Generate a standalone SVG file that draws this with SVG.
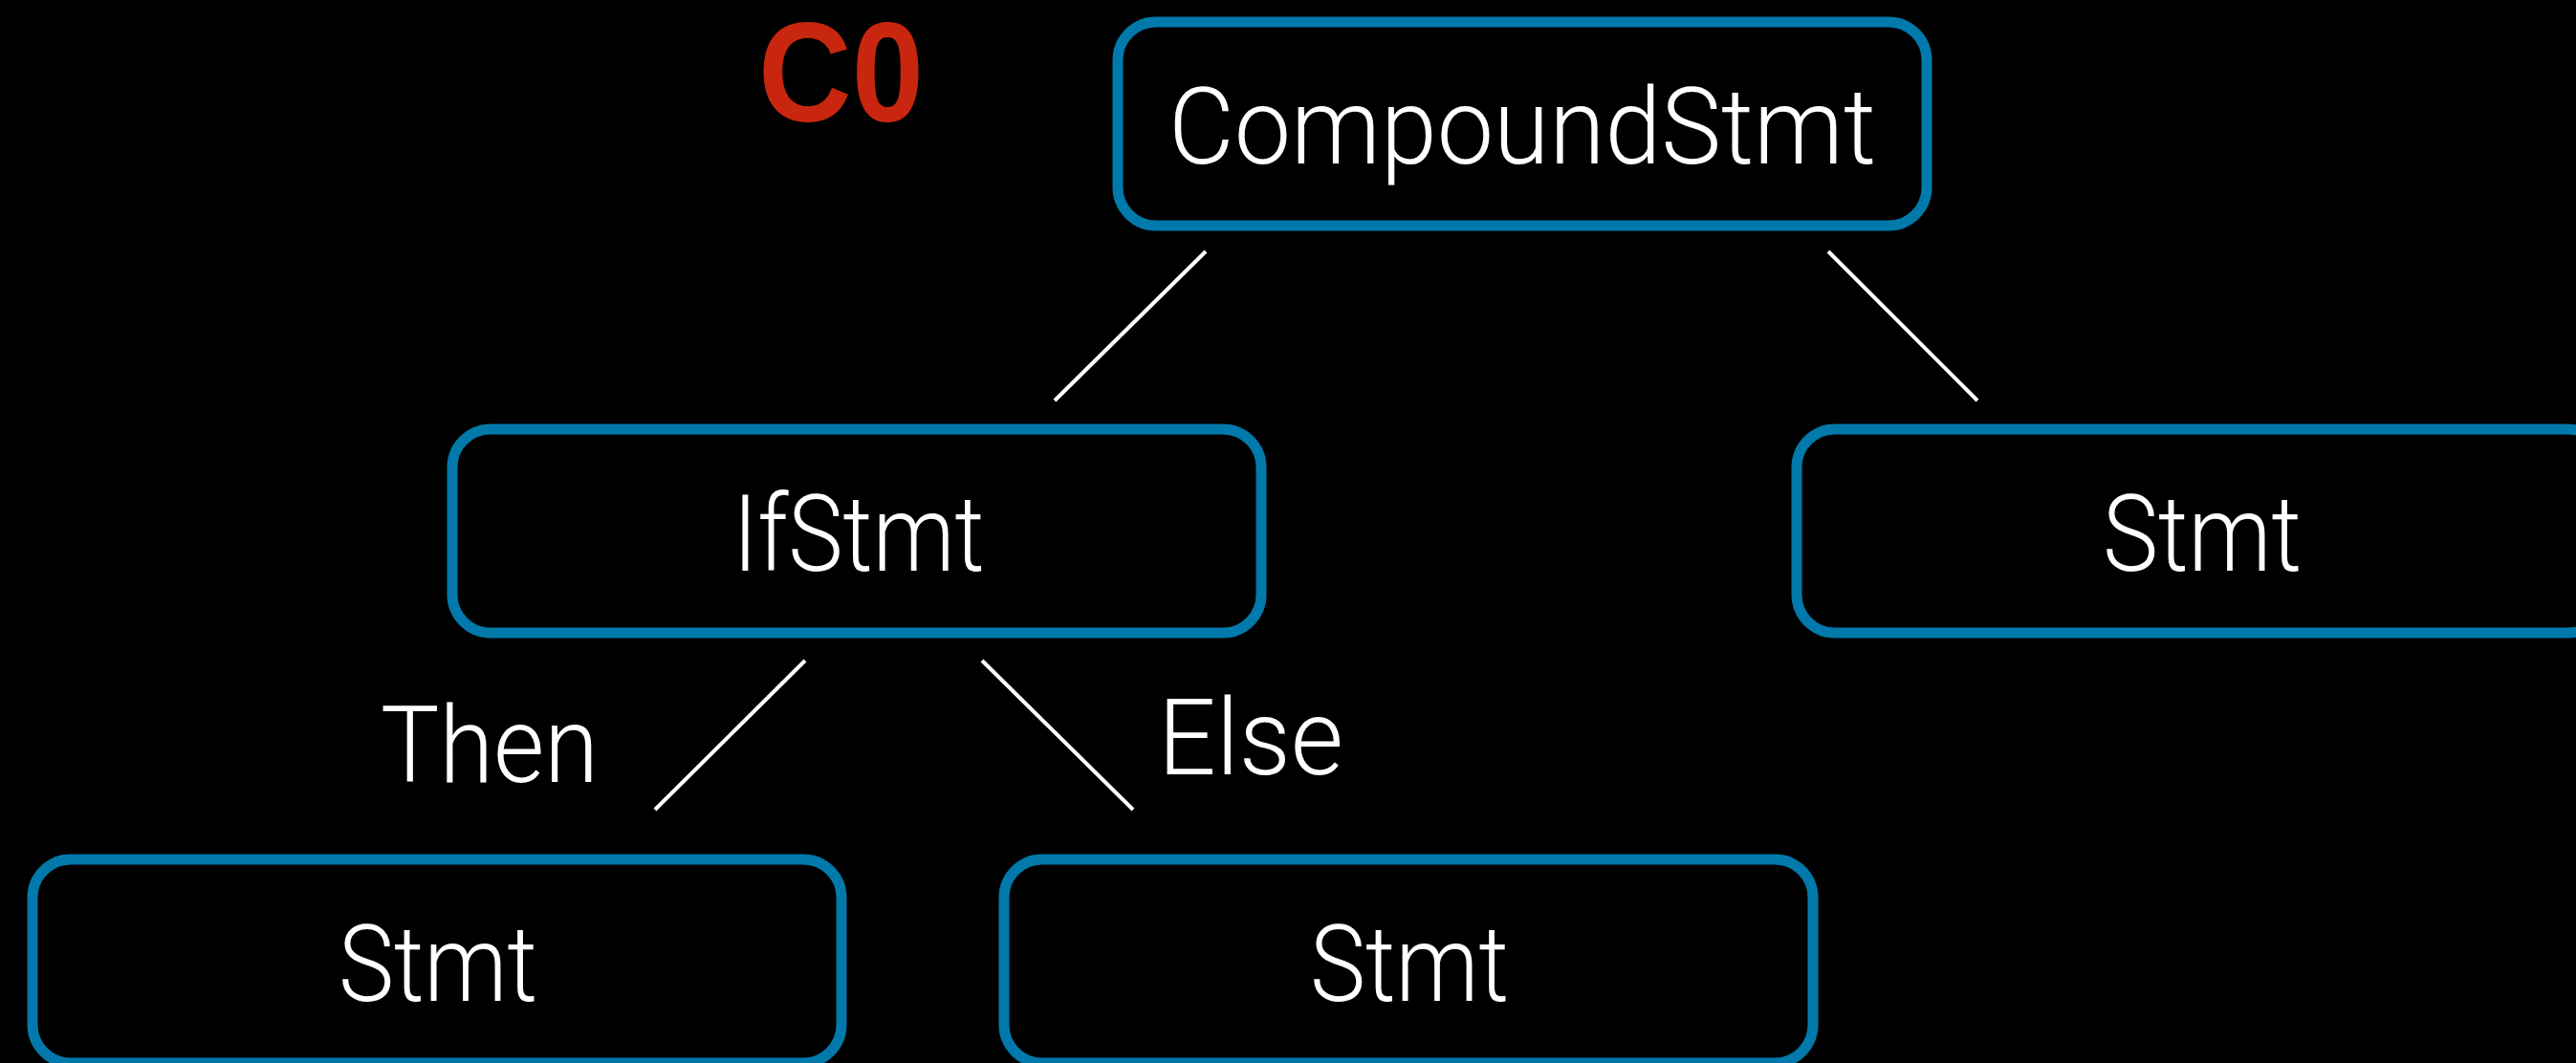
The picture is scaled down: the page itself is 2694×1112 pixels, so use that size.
<svg xmlns="http://www.w3.org/2000/svg" width="2694" height="1112" viewBox="0 0 2694 1112">
<style>
.box{fill:#000;stroke:#0179AB;stroke-width:11}
.lbl{fill:#fff;font-family:Roboto,"Liberation Sans",sans-serif;font-weight:300;font-size:112px;text-anchor:middle}
.edge{stroke:#fff;stroke-width:4;fill:none}
.title{fill:#C8260E;font-family:"Liberation Sans",Arial,sans-serif;font-weight:bold;font-size:148px}
</style>
<rect width="2694" height="1112" fill="#000"/>
<text class="title" x="793" y="127" textLength="173" lengthAdjust="spacingAndGlyphs">C0</text>
<g id="connectors">
<line class="edge" x1="1261" y1="263" x2="1103" y2="419"/>
<line class="edge" x1="1912" y1="263" x2="2068" y2="419"/>
<line class="edge" x1="842" y1="691" x2="685" y2="847"/>
<line class="edge" x1="1027" y1="691" x2="1185" y2="847"/>
<text class="lbl" x="512" y="818" textLength="228" lengthAdjust="spacingAndGlyphs">Then</text>
<text class="lbl" x="1308" y="810" textLength="194" lengthAdjust="spacingAndGlyphs">Else</text>
</g>
<g id="compound">
<rect class="box" x="1169" y="23" width="846" height="213" rx="40"/>
<text class="lbl" x="1592" y="171" textLength="740" lengthAdjust="spacingAndGlyphs">CompoundStmt</text>
</g>
<g id="ifstmt">
<rect class="box" x="473" y="449" width="846" height="213" rx="40"/>
<text class="lbl" x="898" y="597" textLength="263" lengthAdjust="spacingAndGlyphs">IfStmt</text>
</g>
<g id="stmt-right">
<rect class="box" x="1879" y="449" width="846" height="213" rx="40"/>
<text class="lbl" x="2303" y="597" textLength="208" lengthAdjust="spacingAndGlyphs">Stmt</text>
</g>
<g id="stmt-then">
<rect class="box" x="34" y="899" width="846" height="213" rx="40"/>
<text class="lbl" x="458" y="1047" textLength="208" lengthAdjust="spacingAndGlyphs">Stmt</text>
</g>
<g id="stmt-else">
<rect class="box" x="1050" y="899" width="846" height="213" rx="40"/>
<text class="lbl" x="1474" y="1047" textLength="208" lengthAdjust="spacingAndGlyphs">Stmt</text>
</g>
</svg>
